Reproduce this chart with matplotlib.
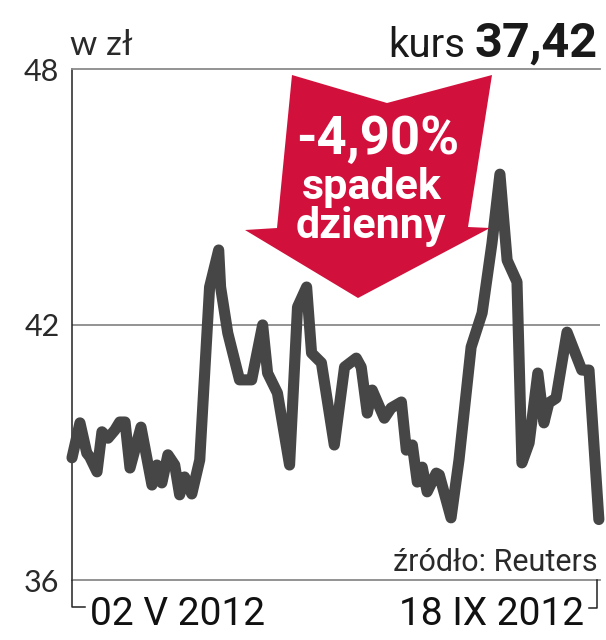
import matplotlib
matplotlib.use("Agg")
import matplotlib.pyplot as plt
from matplotlib.patches import Polygon
from matplotlib.lines import Line2D

W, H = 606, 640

# days since 02 V 2012 and closing price (zl)
dni = [0.0, 2.1, 3.9, 4.7, 6.6, 7.9, 9.5, 11.3, 12.6, 14.0,
       15.3, 18.2, 21.1, 22.4, 23.7, 25.3, 27.1, 28.4, 29.7, 31.6,
       33.7, 36.3, 38.7, 39.2, 41.1, 44.2, 47.4, 50.3, 51.6, 54.2,
       57.4, 59.5, 61.9, 63.2, 65.8, 69.2, 71.9, 75.0, 76.3, 77.9,
       79.2, 82.4, 84.2, 86.9, 88.2, 89.8, 91.1, 92.4, 93.7, 96.1,
       96.9, 100.0, 102.1, 105.3, 108.2, 110.8, 112.9, 114.8, 117.4, 118.7,
       120.6, 122.9, 124.5, 125.8, 127.7, 130.6, 134.5, 136.4, 139.0]
kurs = [38.87, 39.69, 38.98, 38.89, 38.54, 39.48, 39.33, 39.52, 39.71, 39.71,
        38.63, 39.59, 38.23, 38.70, 38.28, 38.94, 38.70, 38.00, 38.42, 38.02,
        38.82, 42.88, 43.75, 42.88, 41.80, 40.70, 40.70, 41.99, 40.86, 40.39,
        38.70, 42.41, 42.88, 41.33, 41.10, 39.17, 41.00, 41.21, 41.00, 39.92,
        40.46, 39.80, 40.04, 40.18, 39.05, 39.17, 38.30, 38.65, 38.07, 38.51,
        38.47, 37.46, 38.82, 41.47, 42.27, 43.91, 45.53, 43.51, 43.00, 38.75,
        39.22, 40.86, 39.69, 40.16, 40.27, 41.82, 40.93, 40.93, 37.42]

y_ticks = [36, 42, 48]
data_od = "02 V 2012"
data_do = "18 IX 2012"
ostatni = "37,42"
zmiana = "-4,90%"

RED = "#d1103c"
LINE = "#464646"
GRID = "#8a8a8a"
THIN = ["Lato", "DejaVu Sans"]
SANS = ["Roboto", "DejaVu Sans"]


def fx(x):
    return x / W


def fy(y):
    return 1 - y / H


def main():
    fig = plt.figure(figsize=(W / 100, H / 100), dpi=100)
    ax = fig.add_axes([fx(72), fy(580), (600 - 72) / W, (580 - 69) / H])

    ax.plot(dni, kurs, color=LINE, lw=8, solid_joinstyle="round",
            solid_capstyle="round", zorder=3, clip_on=False)
    ax.axhline(42, color=GRID, lw=1.3, zorder=1)

    ax.set_xlim(0, 139.3)
    ax.set_ylim(36, 48)
    ax.set_xticks([])
    ax.set_yticks(y_ticks)
    ax.set_yticklabels([str(t) for t in y_ticks], family=THIN,
                       fontsize=22, color="#2a2a2a")
    ax.tick_params(axis="y", length=0, pad=9)
    ax.spines["right"].set_visible(False)
    ax.spines["left"].set_color("#222222")
    ax.spines["left"].set_linewidth(1.1)
    for s in ("top", "bottom"):
        ax.spines[s].set_color(GRID)
        ax.spines[s].set_linewidth(1.3)

    # brackets under the axis
    fig.add_artist(Line2D([fx(72), fx(72), fx(85)], [fy(580), fy(607), fy(607)],
                          color="#222222", lw=1.1))
    fig.add_artist(Line2D([fx(589), fx(597), fx(597)], [fy(608), fy(608), fy(580)],
                          color="#222222", lw=1.1))

    # red arrow
    pts = [(292, 75), (387, 103), (492, 75), (468, 227), (490, 228),
           (358, 298), (245, 230), (277, 228)]
    fig.add_artist(Polygon([(fx(x), fy(y)) for x, y in pts], closed=True,
                           facecolor=RED, edgecolor="none", zorder=5))
    fig.text(fx(378), fy(154), zmiana, ha="center", va="baseline", color="white",
             family=SANS, fontweight="bold", fontsize=38, zorder=6)
    fig.text(fx(372), fy(199), "spadek", ha="center", va="baseline", color="white",
             family=SANS, fontweight="bold", fontsize=31, zorder=6)
    fig.text(fx(371), fy(238), "dzienny", ha="center", va="baseline", color="white",
             family=SANS, fontweight="bold", fontsize=31, zorder=6)

    # header
    fig.text(fx(70), fy(55), "w zł", ha="left", va="baseline", family=THIN,
             fontsize=25, color="#2a2a2a")
    fig.text(fx(598), fy(57), ostatni, ha="right", va="baseline", family=SANS,
             fontweight="bold", fontsize=35, color="#1a1a1a")
    fig.text(fx(465), fy(57), "kurs", ha="right", va="baseline", family=SANS,
             fontsize=29, color="#1a1a1a")

    # source and dates
    fig.text(fx(598), fy(571), "źródło: Reuters", ha="right", va="baseline",
             family=SANS, fontsize=22, color="#2a2a2a")
    fig.text(fx(90), fy(625), data_od, ha="left", va="baseline",
             family=SANS, fontsize=28, color="#111111")
    fig.text(fx(584), fy(625), data_do, ha="right", va="baseline",
             family=SANS, fontsize=28, color="#111111")

    fig.savefig("out.png", dpi=100)


if __name__ == '__main__':
    main()
